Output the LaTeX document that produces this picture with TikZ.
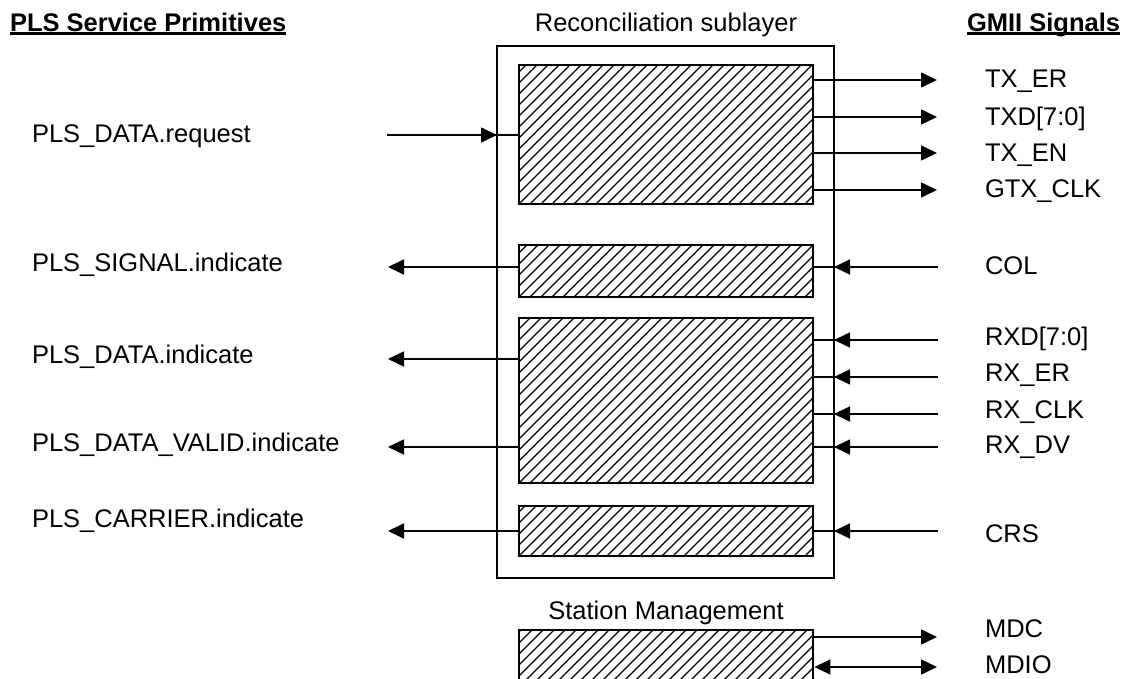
\documentclass[tikz,border=0pt]{standalone}
\usepackage{fontspec}
\setmainfont{Liberation Sans}
\usetikzlibrary{arrows.meta,calc}
% heading text with a thick rule under it
\newcommand\headul[1]{\setbox0\hbox{#1}\rlap{\rule[-2.6pt]{\wd0}{2.2pt}}\box0}

\begin{document}
\begin{tikzpicture}[x=1pt,y=-1pt,
  every node/.style={font=\fontsize{25.5}{30}\selectfont, inner sep=0pt, outer sep=0pt},
  hatched/.style={path picture={
    \foreach \k in {-20,...,30}
      \draw[line width=1.2pt] ($(path picture bounding box.south west)+(\k*11,0)$) -- ++(400,-400);}},
  rsframe/.style={draw, line width=2.8pt},
  block/.style={draw, line width=2.8pt, hatched, minimum width=294},
  sig/.style={line width=1.6pt},
  tip/.tip={Triangle[length=16pt,width=15pt]},
  arr/.style={sig, -tip},
  darr/.style={sig, tip-tip},
  lab/.style={anchor=base west},
  head/.style={font=\fontsize{25.5}{30}\selectfont\bfseries}]

\path[use as bounding box] (0,0) rectangle (1125,679);
\clip (0,0) rectangle (1125,679);

% headings
\node[head, anchor=base west] (hpls) at (10,32) {\headul{PLS Service Primitives}};
\node[anchor=base] (hrs) at (666,32) {Reconciliation sublayer};
\node[head, anchor=base west] (hgmii) at (967,32) {\headul{GMII Signals}};

% reconciliation sublayer and its blocks
\node[rsframe, minimum width=337, minimum height=532] (rs) at (665.5,312) {};
\node[block, minimum height=139] (tx)  at (666,134.5) {};
\node[block, minimum height=52]  (col) at (666,271) {};
\node[block, minimum height=165] (rx)  at (666,400.5) {};
\node[block, minimum height=50]  (crs) at (666,531) {};

% station management
\node[anchor=base] (smlab) at (666,619) {Station Management};
\node[block, minimum height=90] (sm) at (666,675) {};

% service primitives (left)
\node[lab] (preq) at (32,143) {PLS\_DATA.request};
\node[lab] (psig) at (32,272) {PLS\_SIGNAL.indicate};
\node[lab] (pdat) at (32,363) {PLS\_DATA.indicate};
\node[lab] (pval) at (32,451) {PLS\_DATA\_VALID.indicate};
\node[lab] (pcar) at (32,527) {PLS\_CARRIER.indicate};

% GMII signals (right)
\node[lab] (gtxer)  at (985,88)  {TX\_ER};
\node[lab] (gtxd)   at (985,126) {TXD[7:0]};
\node[lab] (gtxen)  at (985,162) {TX\_EN};
\node[lab] (ggtx)   at (985,198) {GTX\_CLK};
\node[lab] (gcol)   at (985,275) {COL};
\node[lab] (grxd)   at (985,345) {RXD[7:0]};
\node[lab] (grxer)  at (985,381) {RX\_ER};
\node[lab] (grxclk) at (985,418) {RX\_CLK};
\node[lab] (grxdv)  at (985,453) {RX\_DV};
\node[lab] (gcrs)   at (985,542) {CRS};
\node[lab] (gmdc)   at (985,637) {MDC};
\node[lab] (gmdio)  at (985,673) {MDIO};

% request into the transmit block
\coordinate (rq) at (387,135);
\draw[sig] (rq) -- (tx.west |- rq);
\draw[arr] (rq) -- (rs.west |- rq);

% indications out to the left
\foreach \y/\b in {267/col, 359/rx, 447/rx, 531/crs} {
  \coordinate (lo\y) at (388,\y);
  \draw[arr] (\b.west |- lo\y) -- (lo\y);
}

% transmit signals out to the right
\foreach \y in {80,117,153,190} {
  \coordinate (ro\y) at (937,\y);
  \draw[arr] (tx.east |- ro\y) -- (ro\y);
}

% receive signals in from the right
\foreach \y/\b in {267/col, 340/rx, 377/rx, 414/rx, 447/rx, 531/crs} {
  \coordinate (ri\y) at (938,\y);
  \draw[sig] (ri\y) -- (\b.east |- ri\y);
  \draw[arr] (ri\y) -- (rs.east |- ri\y);
}

% management interface
\coordinate (mdc) at (937,637);
\coordinate (mdio) at (937,667);
\draw[arr] (sm.east |- mdc) -- (mdc);
\draw[darr, shorten <=1.4pt] (sm.east |- mdio) -- (mdio);
\end{tikzpicture}
\end{document}
